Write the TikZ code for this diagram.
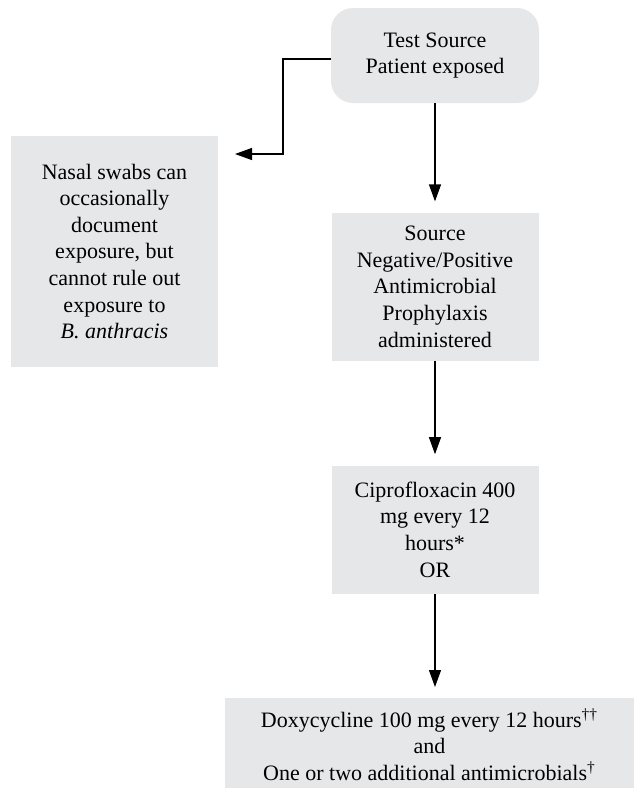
\documentclass[tikz,border=0pt]{standalone}
\usepackage{fontspec}
\setmainfont{Liberation Serif}
\usetikzlibrary{positioning}
\usetikzlibrary{arrows.meta}
\definecolor{boxgray}{HTML}{E6E7E8}

\begin{document}
\begin{tikzpicture}[
    x=0.5pt,y=-0.5pt,
    font=\fontsize{11}{13.3}\selectfont,
    startstop/.style={rectangle,rounded corners=11pt,align=center,fill=boxgray,minimum width=104pt,minimum height=47.5pt},
    process/.style={rectangle,align=center,fill=boxgray,minimum width=103.5pt},
    arr/.style={line width=0.6pt,-{Triangle[length=8.5pt,width=6pt]},shorten >=5.5pt}
    ]
    \useasboundingbox (0,0) rectangle (634,788);
    \node (test) [startstop] at (435,55.5) {Test Source\\Patient exposed};
    \node (nasal) [process,minimum height=115.5pt] at (114.5,251.5) {Nasal swabs can\\occasionally\\document\\exposure, but\\cannot rule out\\exposure to\\\textit{B. anthracis}};
    \node (src) [process,minimum height=74pt,below=54.5pt of test] {Source\\Negative/Positive\\Antimicrobial\\Prophylaxis\\administered};
    \node (cipro) [process,minimum height=64pt,below=52pt of src] {Ciprofloxacin 400\\mg every 12\\hours*\\OR};
    \node (doxy) [process,minimum width=204.5pt,minimum height=46pt,below=52pt of cipro,xshift=-2.75pt] {Doxycycline 100 mg every 12 hours\textsuperscript{††}\\and\\One or two additional antimicrobials\textsuperscript{†}};
    \coordinate (nasalin) at (235,154);
    \draw[arr,shorten >=0pt] (test.west |- 0,59) -| (283,154) -- (nasalin);
    \draw[arr] (test) -- (src);
    \draw[arr] (src) -- (cipro);
    \draw[arr] (cipro.south) -- (cipro.south |- doxy.north);
\end{tikzpicture}
\end{document}
